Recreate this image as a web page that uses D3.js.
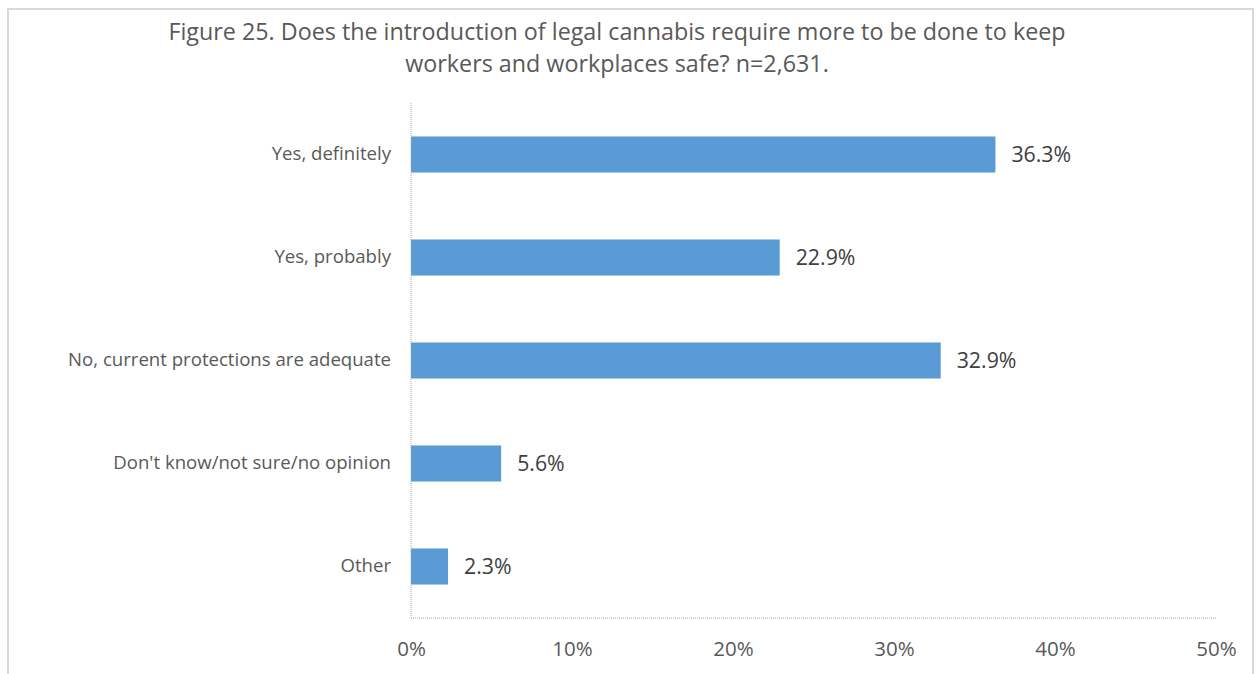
<!DOCTYPE html>
<html>
<head>
<meta charset="utf-8">
<script src="https://cdn.jsdelivr.net/npm/d3@7"></script>
<style>
  body { margin: 0; background: #fff; }
  svg { font-family: "Open Sans", sans-serif; }
</style>
</head>
<body>
<div id="chart"></div>
<script>
(function() {
  var width = 1258, height = 674;

  var categories = [
    'Yes, definitely',
    'Yes, probably',
    'No, current protections are adequate',
    "Don't know/not sure/no opinion",
    'Other'
  ];
  var values = [36.3, 22.9, 32.9, 5.6, 2.3];
  var ticks = [0, 10, 20, 30, 40, 50];
  var titleLines = [
    'Figure 25. Does the introduction of legal cannabis require more to be done to keep',
    'workers and workplaces safe? n=2,631.'
  ];

  var svg = d3.select('#chart')
    .append('svg')
    .attr('width', width)
    .attr('height', height);

  // outer frame
  svg.append('rect')
    .attr('x', 8)
    .attr('y', 9)
    .attr('width', 1245)
    .attr('height', 700)
    .attr('fill', 'none')
    .attr('stroke', '#d9d9d9')
    .attr('stroke-width', 2);

  svg.selectAll('text.title')
    .data(titleLines)
    .enter()
    .append('text')
    .attr('class', 'title')
    .attr('x', 617)
    .attr('y', function(d, i) { return 40 + i * 32; })
    .attr('text-anchor', 'middle')
    .attr('font-size', 23.3)
    .attr('fill', '#595959')
    .text(function(d) { return d; });

  var x = d3.scaleLinear().domain([0, 50]).range([411, 1216]);
  var y = d3.scaleBand().domain(categories).range([103, 618]).paddingInner(0.65).paddingOuter(0.325);

  svg.selectAll('rect.bar')
    .data(values)
    .enter()
    .append('rect')
    .attr('class', 'bar')
    .attr('x', x(0))
    .attr('y', function(d, i) { return y(categories[i]); })
    .attr('width', function(d) { return x(d) - x(0); })
    .attr('height', y.bandwidth())
    .attr('fill', '#5b9bd5');

  svg.selectAll('text.value')
    .data(values)
    .enter()
    .append('text')
    .attr('class', 'value')
    .attr('x', function(d) { return x(d) + 16; })
    .attr('y', function(d, i) { return y(categories[i]) + y.bandwidth() / 2; })
    .attr('dy', '0.35em')
    .attr('font-size', 21.3)
    .attr('fill', '#404040')
    .text(function(d) { return d.toFixed(1) + '%'; });

  // axes
  var yAxis = svg.append('g')
    .attr('transform', 'translate(' + x(0) + ',0)')
    .call(d3.axisLeft(y).tickSize(0).tickPadding(20));
  yAxis.select('.domain').remove();
  yAxis.selectAll('text')
    .attr('font-size', 18.6)
    .attr('fill', '#595959')
    .attr('font-family', '"Open Sans", sans-serif');

  svg.append('line')
    .attr('x1', x(0)).attr('x2', x(0))
    .attr('y1', 103).attr('y2', 618)
    .attr('stroke', '#a6a6a6')
    .attr('stroke-dasharray', '1,1');

  svg.append('line')
    .attr('x1', x(0)).attr('x2', x(50))
    .attr('y1', 618).attr('y2', 618)
    .attr('stroke', '#a6a6a6')
    .attr('stroke-dasharray', '1,1');

  var xAxis = svg.append('g')
    .attr('transform', 'translate(0,618)')
    .call(d3.axisBottom(x).tickValues(ticks).tickSize(0).tickPadding(23)
      .tickFormat(function(d) { return d + '%'; }));
  xAxis.select('.domain').remove();
  xAxis.selectAll('text')
    .attr('font-size', 20.5)
    .attr('fill', '#595959')
    .attr('font-family', '"Open Sans", sans-serif');
}());
</script>
</body>
</html>
